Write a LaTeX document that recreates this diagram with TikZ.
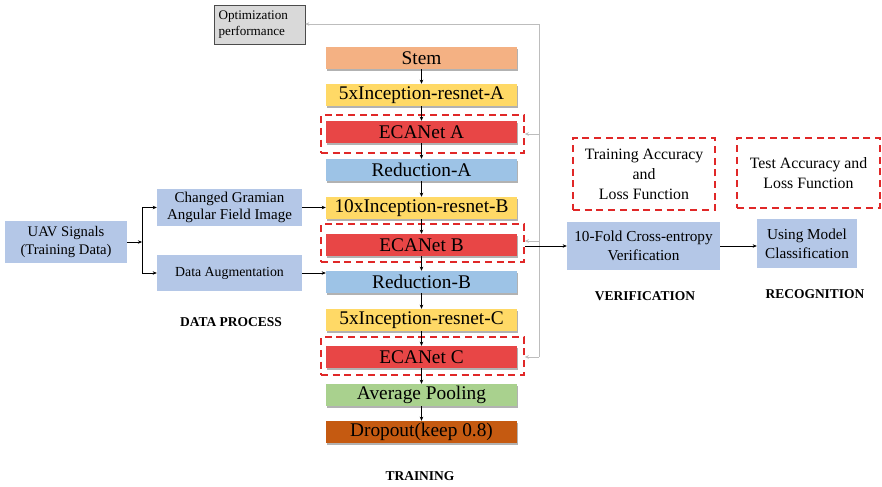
\documentclass[tikz,border=0pt]{standalone}
\usepackage{fontspec}
\setmainfont{Liberation Serif}
\usetikzlibrary{arrows.meta, shadows}

\definecolor{stemc}{HTML}{F4B183}
\definecolor{incc}{HTML}{FFD966}
\definecolor{ecac}{HTML}{E84646}
\definecolor{redc}{HTML}{9DC3E6}
\definecolor{poolc}{HTML}{A9D18E}
\definecolor{dropc}{HTML}{C55A11}
\definecolor{sidec}{HTML}{B4C7E7}
\definecolor{dashc}{HTML}{E02828}
\definecolor{fbc}{HTML}{BDBDBD}

\tikzset{
  layer/.style={minimum width=5.73cm, minimum height=0.66cm, inner sep=0pt,
    font=\fontsize{16.5}{18}\selectfont,
    drop shadow={shadow xshift=0.6pt, shadow yshift=-2pt, opacity=0.3, fill=black}},
  ecabox/.style={draw=dashc, line width=1.3pt, dash pattern=on 6pt off 4pt,
    minimum width=6.09cm, minimum height=1.14cm},
  sidebox/.style={fill=sidec, align=center, inner sep=0pt},
  tagbox/.style={draw=dashc, line width=1.3pt, dash pattern=on 6pt off 4pt,
    align=center, inner sep=0pt, font=\fontsize{13.5}{17}\selectfont},
  caption/.style={font=\fontsize{11.5}{13}\selectfont\bfseries},
  arr/.style={-{Stealth[length=3.5pt,width=3pt]}, line width=0.5pt},
  fb/.style={-{Stealth[length=3.5pt,width=3pt]}, draw=fbc, line width=0.7pt}
}

\begin{document}
\begin{tikzpicture}[x=0.03cm, y=-0.03cm]
\useasboundingbox (0,0) rectangle (882,487);

% training column
\node[ecabox] (ecaAbox) at (422.5,134) {};
\node[ecabox] (ecaBbox) at (422.5,243) {};
\node[ecabox] (ecaCbox) at (422.5,356) {};

\node[layer, fill=stemc] (stem) at (421.5,58) {Stem};
\node[layer, fill=incc] (incA) at (421.5,95) {5xInception-resnet-A};
\node[layer, fill=ecac] (ecaA) at (421.5,132) {ECANet A};
\node[layer, fill=redc] (redA) at (421.5,170) {Reduction-A};
\node[layer, fill=incc] (incB) at (421.5,208) {10xInception-resnet-B};
\node[layer, fill=ecac] (ecaB) at (421.5,245) {ECANet B};
\node[layer, fill=redc] (redB) at (421.5,282) {Reduction-B};
\node[layer, fill=incc] (incC) at (421.5,320) {5xInception-resnet-C};
\node[layer, fill=ecac] (ecaC) at (421.5,357) {ECANet C};
\node[layer, fill=poolc] (pool) at (421.5,395) {Average Pooling};
\node[layer, fill=dropc] (drop) at (421.5,432) {Dropout(keep 0.8)};

\foreach \a/\b in {stem/incA, incA/ecaA, ecaA/redA, redA/incB, incB/ecaB,
                   ecaB/redB, redB/incC, incC/ecaC, ecaC/pool, pool/drop}
  \draw[arr] (\a) -- (\b);

\node[caption] (train) at (420,476) {TRAINING};

% data process
\node[sidebox, minimum width=3.66cm, minimum height=1.26cm,
      font=\fontsize{12.5}{15}\selectfont] (uav) at (66,242) {UAV Signals\\(Training Data)};
\node[sidebox, minimum width=4.35cm, minimum height=1.11cm,
      font=\fontsize{12.8}{15}\selectfont] (gaf) at (229.5,207.5) {Changed Gramian\\Angular Field Image};
\node[sidebox, minimum width=4.35cm, minimum height=1.08cm,
      font=\fontsize{11.8}{14}\selectfont] (aug) at (229.5,273) {Data Augmentation};
\coordinate (split) at (142,242);
\draw[arr] (uav) -- (split);
\draw[arr] (split) |- (gaf);
\draw[arr] (split) |- (aug);
\draw[arr] (gaf.east) -- (gaf.east -| incB.west);
\draw[arr] (aug.east) -- (aug.east -| redB.west);
\node[caption] (dp) at (231,322) {DATA PROCESS};

% feedback
\node[draw=black!70, fill=black!15, align=left, inner sep=0pt,
      text width=2.45cm, minimum width=2.73cm, minimum height=1.17cm,
      font=\fontsize{11.2}{13.5}\selectfont] (opt) at (259.5,24.5) {Optimization\\performance};
\coordinate (fbtop) at (539,24);
\coordinate (fbbot) at (539,357);
\draw[fbc, line width=0.7pt] (fbbot) -- (fbtop);
\draw[fb] (fbtop) -- (fbtop -| opt.east);
\draw[fb] (fbtop |- ecaAbox.east) -- (ecaAbox.east);
\draw[fb] (539,241) -- (ecaBbox.east |- 0,241);
\draw[fb] (fbbot) -- (fbbot -| ecaCbox.east);

% verification and recognition
\node[sidebox, minimum width=4.59cm, minimum height=1.44cm,
      font=\fontsize{13}{16}\selectfont] (fold) at (643.5,246) {10-Fold Cross-entropy\\Verification};
\node[sidebox, minimum width=3.0cm, minimum height=1.47cm,
      font=\fontsize{13}{16}\selectfont] (use) at (807,243.5) {Using Model\\Classification};
\draw[arr] (ecaBbox.east |- fold.west) -- (fold.west);
\draw[arr] (fold.east) -- (fold.east -| use.west);

\node[tagbox, minimum width=4.26cm, minimum height=2.16cm] (tacc) at (644,174) {Training Accuracy\\and\\Loss Function};
\node[tagbox, minimum width=4.29cm, minimum height=2.1cm] (tsacc) at (808.5,173) {Test Accuracy and\\Loss Function};

\node[caption] (ver) at (645,296) {VERIFICATION};
\node[caption] (rec) at (815,294) {RECOGNITION};
\end{tikzpicture}
\end{document}
